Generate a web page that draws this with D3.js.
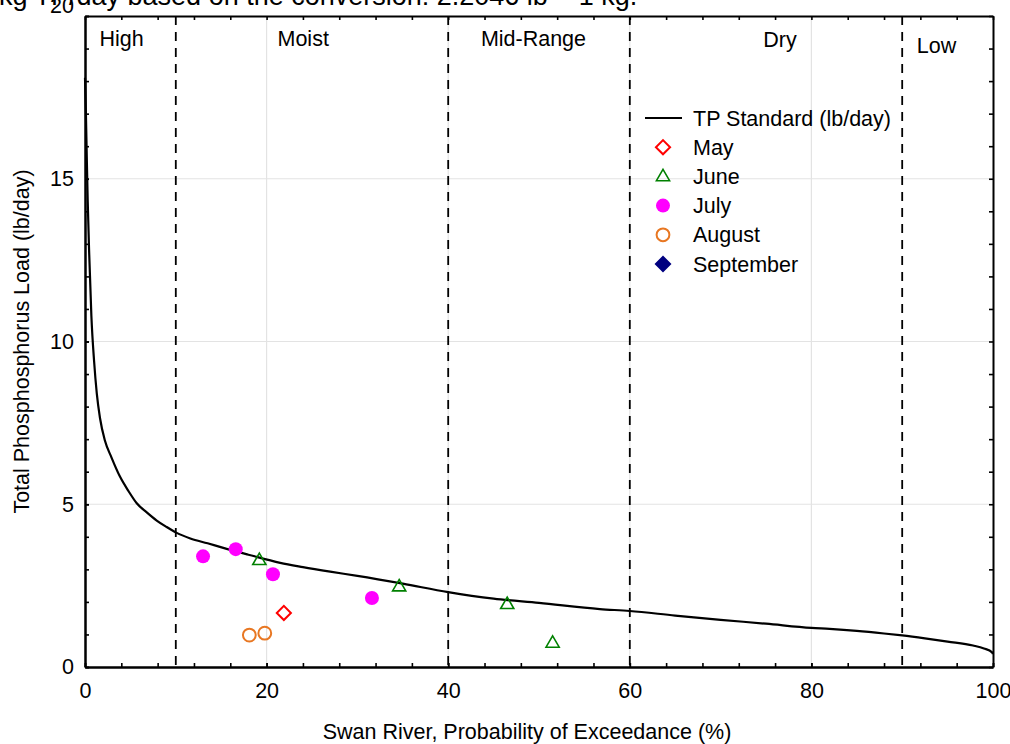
<!DOCTYPE html>
<html>
<head>
<meta charset="utf-8">
<script src="https://cdn.jsdelivr.net/npm/d3@7"></script>
<style>
  html, body { margin: 0; padding: 0; background: #fff; }
  svg { display: block; }
  text { font-family: "Liberation Sans", Arial, Helvetica, sans-serif; fill: #000; }
</style>
</head>
<body>
<svg id="chart" width="1010" height="744"></svg>
<script>
// ---- data ----
// Load duration curve for the TP standard: [exceedance %, lb/day]
const standardCurve = [
  [0, 18.1], [0.1, 17.0], [0.2, 15.6], [0.3, 14.3], [0.45, 12.8], [0.7, 10.8],
  [1.0, 9.4], [1.3, 8.4], [1.65, 7.65], [2.2, 6.95], [2.9, 6.45], [3.85, 5.85],
  [4.8, 5.4], [5.7, 5.03], [6.8, 4.75], [7.9, 4.5], [9.0, 4.3], [10.1, 4.12],
  [11.6, 3.95], [13.5, 3.8], [15.6, 3.63], [18, 3.45], [21.5, 3.2], [24, 3.07],
  [27, 2.93], [30, 2.8], [35, 2.56], [40, 2.3], [45, 2.1], [50, 1.97],
  [56.7, 1.78], [60, 1.72], [65, 1.58], [70, 1.45], [75, 1.33], [80, 1.2],
  [82, 1.17], [85, 1.11], [88, 1.03], [90, 0.97], [92.5, 0.88], [95, 0.78],
  [97.8, 0.66], [99, 0.57], [99.9, 0.45], [100, 0.4]
];

// Monthly samples: [exceedance %, lb/day]
const mayPoints = [[21.9, 1.66]];
const junePoints = [[19.2, 3.28], [34.6, 2.47], [46.5, 1.93], [51.5, 0.74]];
const julyPoints = [[13.0, 3.40], [16.6, 3.62], [20.7, 2.85], [31.6, 2.12]];
const augustPoints = [[18.1, 0.98], [19.8, 1.04]];
const septemberPoints = [];

// Flow regimes and the boundaries between them
const zoneNames = ["High", "Moist", "Mid-Range", "Dry", "Low"];
const zoneBounds = [10, 40, 60, 90];

const xTickValues = [0, 20, 40, 60, 80, 100];
const yTickValues = [0, 5, 10, 15, 20];

const titleLine = "kg TP/day based on the conversion: 2.2046 lb = 1 kg.";
const xTitle = "Swan River, Probability of Exceedance (%)";
const yTitle = "Total Phosphosphorus Load (lb/day)";

// ---- layout ----
const svg = d3.select("#chart");
const plotL = 85, plotR = 993, plotT = 16, plotB = 667;
const fontSize = 21.5;

const x = d3.scaleLinear().domain([0, 100]).range([plotL, plotR]);
const y = d3.scaleLinear().domain([0, 20]).range([plotB, plotT]);

// Title line (the start of it sits above the page)
svg.append("text")
  .attr("x", -1).attr("y", 5)
  .attr("font-size", 27)
  .text(titleLine);

// Grid
const grid = svg.append("g").attr("stroke", "#e3e3e3").attr("stroke-width", 1.2);
grid.selectAll("line.gx").data([20, 40, 60, 80]).join("line")
  .attr("x1", d => x(d)).attr("x2", d => x(d))
  .attr("y1", plotT).attr("y2", plotB);
grid.selectAll("line.gy").data([5, 10, 15]).join("line")
  .attr("x1", plotL).attr("x2", plotR)
  .attr("y1", d => y(d)).attr("y2", d => y(d));

// Regime boundaries
svg.append("g").selectAll("line").data(zoneBounds).join("line")
  .attr("x1", d => x(d)).attr("x2", d => x(d))
  .attr("y1", plotT).attr("y2", plotB)
  .attr("stroke", "#000").attr("stroke-width", 1.8)
  .attr("stroke-dasharray", "9,7");

// Regime labels: [left edge in %, baseline px]
const zoneLabelPos = [[1.6, 46], [21.2, 46], [43.6, 46], [74.7, 47], [91.6, 53]];
svg.append("g").selectAll("text").data(zoneNames).join("text")
  .attr("x", (d, i) => x(zoneLabelPos[i][0]))
  .attr("y", (d, i) => zoneLabelPos[i][1])
  .attr("font-size", fontSize)
  .text(d => d);

// Standard curve
const line = d3.line().curve(d3.curveMonotoneX).x(d => x(d[0])).y(d => y(d[1]));
svg.append("path")
  .datum(standardCurve)
  .attr("d", line)
  .attr("fill", "none")
  .attr("stroke", "#000")
  .attr("stroke-width", 2.2)
  .attr("stroke-linejoin", "round");

// Marker shapes
const symDiamond = d3.symbol().type(d3.symbolSquare).size(100);
const symTriangle = d3.symbol().type(d3.symbolTriangle).size(75);

const series = [
  { name: "May", data: mayPoints, kind: "diamond", color: "#ff0000", fill: "none" },
  { name: "June", data: junePoints, kind: "triangle", color: "#008000", fill: "none" },
  { name: "July", data: julyPoints, kind: "dot", color: "#ff00ff", fill: "#ff00ff" },
  { name: "August", data: augustPoints, kind: "circle", color: "#e87722", fill: "none" },
  { name: "September", data: septemberPoints, kind: "diamond", color: "#000080", fill: "#000080" }
];

function drawMarker(g, s) {
  if (s.kind === "dot") {
    g.append("circle").attr("r", 7).attr("fill", s.fill);
  } else if (s.kind === "circle") {
    g.append("circle").attr("r", 6.4).attr("fill", "none")
      .attr("stroke", s.color).attr("stroke-width", 2);
  } else if (s.kind === "diamond") {
    g.append("path").attr("d", symDiamond()).attr("transform", "rotate(45)")
      .attr("fill", s.fill).attr("stroke", s.color).attr("stroke-width", 2);
  } else {
    g.append("path").attr("d", symTriangle()).attr("transform", "translate(0,0.5)")
      .attr("fill", "none").attr("stroke", s.color).attr("stroke-width", 1.6);
  }
}

const marks = svg.append("g");
series.forEach(s => {
  marks.selectAll(null).data(s.data).join("g")
    .attr("transform", d => `translate(${x(d[0])},${y(d[1])})`)
    .each(function () { drawMarker(d3.select(this), s); });
});

// Axes (frame with inward ticks)
function styleAxis(g) {
  g.selectAll("path.domain").attr("stroke", "#000").attr("stroke-width", 2);
  g.selectAll(".tick line").attr("stroke", "#000").attr("stroke-width", 1.6);
  g.selectAll(".tick text").attr("font-size", fontSize).attr("fill", "#000")
    .attr("font-family", "\"Liberation Sans\", Arial, sans-serif");
}

const minorX = d3.range(0, 101, 4);
const minorY = d3.range(0, 21, 1);

svg.append("g").attr("transform", `translate(0,${plotB})`)
  .call(d3.axisBottom(x).tickValues(minorX).tickFormat("").tickSizeInner(-4).tickSizeOuter(0))
  .call(styleAxis);
svg.append("g").attr("transform", `translate(0,${plotB})`)
  .call(d3.axisBottom(x).tickValues(xTickValues).tickFormat(d3.format("d"))
    .tickSizeInner(-4).tickSizeOuter(0).tickPadding(16))
  .call(styleAxis);

svg.append("g").attr("transform", `translate(0,${plotT})`)
  .call(d3.axisTop(x).tickValues(minorX).tickFormat("").tickSizeInner(-4).tickSizeOuter(0))
  .call(styleAxis);

svg.append("g").attr("transform", `translate(${plotL},0)`)
  .call(d3.axisLeft(y).tickValues(minorY).tickFormat("").tickSizeInner(-4).tickSizeOuter(0))
  .call(styleAxis);
const yAxis = svg.append("g").attr("transform", `translate(${plotL},0)`)
  .call(d3.axisLeft(y).tickValues(yTickValues).tickFormat(d3.format("d"))
    .tickSizeInner(-4).tickSizeOuter(0).tickPadding(11))
  .call(styleAxis);
yAxis.selectAll(".tick text").filter(d => d === 20).attr("dy", "-0.15em");

svg.append("g").attr("transform", `translate(${plotR},0)`)
  .call(d3.axisRight(y).tickValues(minorY).tickFormat("").tickSizeInner(-4).tickSizeOuter(0))
  .call(styleAxis);

// Axis titles
svg.append("text")
  .attr("x", 527).attr("y", 739)
  .attr("text-anchor", "middle")
  .attr("font-size", fontSize)
  .text(xTitle);

svg.append("text")
  .attr("transform", `translate(29,${(plotT + plotB) / 2}) rotate(-90)`)
  .attr("text-anchor", "middle")
  .attr("font-size", fontSize)
  .text(yTitle);

// Legend
const legend = svg.append("g");
const lx = 663, ly0 = 118, step = 29.2, tx = 693;
legend.append("line")
  .attr("x1", 645).attr("x2", 682).attr("y1", ly0).attr("y2", ly0)
  .attr("stroke", "#000").attr("stroke-width", 2.2);
legend.append("text").attr("x", tx).attr("y", ly0).attr("dy", "0.35em")
  .attr("font-size", fontSize).text("TP Standard (lb/day)");
series.forEach((s, i) => {
  const cy = ly0 + step * (i + 1);
  const g = legend.append("g").attr("transform", `translate(${lx},${cy})`);
  drawMarker(g, s);
  legend.append("text").attr("x", tx).attr("y", cy).attr("dy", "0.35em")
    .attr("font-size", fontSize).text(s.name);
});
</script>
</body>
</html>
